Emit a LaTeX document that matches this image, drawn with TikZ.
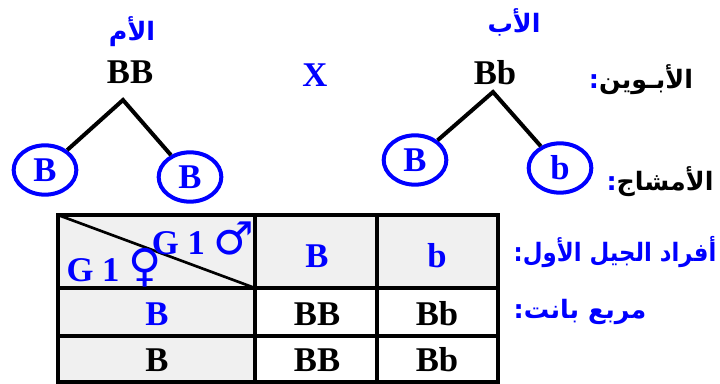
\documentclass[tikz,border=0pt]{standalone}
\usepackage{fontspec}
\setmainfont{Liberation Serif}
\newfontfamily\arabicfont[Script=Arabic]{DejaVu Sans}
\newfontfamily\gsymfont{DejaVu Sans}
\TeXXeTstate=1
\usetikzlibrary{shapes.geometric}
\definecolor{pblue}{RGB}{0,0,255}
\definecolor{cellgray}{RGB}{240,240,240}
\newcommand{\gsym}[1]{{\gsymfont\mdseries\fontsize{34}{34}\selectfont #1}}
\tikzset{
  lat/.style={inner sep=0pt, font=\fontsize{26}{26}\selectfont\bfseries},
  ar/.style={inner sep=0pt, font=\arabicfont\bfseries\fontsize{19}{19}\selectfont},
  gam/.style={ellipse, draw=pblue, line width=3pt, inner sep=0pt, minimum width=47pt, minimum height=37pt, text=pblue, font=\fontsize{26}{26}\selectfont\bfseries},
  branch/.style={line width=3pt, black},
  grid/.style={line width=2.4pt, black},
}
\begin{document}
\begin{tikzpicture}[x=0.75pt,y=-0.75pt]
\useasboundingbox (0,0) rectangle (720,383);
% parents
\node[ar, text=pblue] (momlab) at (132,32) {\beginR الأم\endR};
\node[lat] (mom) at (130,72) {BB};
\node[lat, text=pblue] (cross) at (315,75) {X};
\node[ar, text=pblue] (dadlab) at (514,22) {\beginR الأب\endR};
\node[lat] (dad) at (495,73) {Bb};
\node[ar] (parents) at (641,80) {\textcolor{pblue}{:}\beginR الأبـوين\endR};
\node[ar] (gametes) at (660,182) {\textcolor{pblue}{:}\beginR الأمشاج\endR};
% gametes
\coordinate (mapex) at (123,100);
\coordinate (dapex) at (493,92);
\node[gam] (m1) at (45,170) {B};
\node[gam] (m2) at (190,177) {B};
\node[gam] (d1) at (415,160) {B};
\node[gam] (d2) at (560,168) {b};
\draw[branch] (m1) -- (mapex) -- (m2);
\draw[branch] (d1) -- (dapex) -- (d2);
% table
\fill[cellgray] (58,215) rectangle (498,288);
\fill[cellgray] (58,288) rectangle (255,382);
\draw[grid] (58,215) rectangle (498,382);
\draw[grid] (255,215) -- (255,382);
\draw[grid] (377,215) -- (377,382);
\draw[grid] (58,288) -- (498,288);
\draw[grid] (58,336) -- (498,336);
\draw[line width=2pt] (58,215) -- (255,288);
\node[lat, text=pblue] (male) at (203,238) {G 1 \gsym{♂}};
\node[lat, text=pblue] (female) at (114,268) {G 1 \gsym{♀}};
\node[lat, text=pblue] (hB) at (317,256) {B};
\node[lat, text=pblue] (hb) at (437,256) {b};
\node[lat, text=pblue] (r1) at (157,314) {B};
\node[lat] (c11) at (317,314) {BB};
\node[lat] (c12) at (437,314) {Bb};
\node[lat] (r2) at (157,360) {B};
\node[lat] (c21) at (317,360) {BB};
\node[lat] (c22) at (437,360) {Bb};
% labels
\node[ar, text=pblue, xscale=0.9, transform shape] (f1) at (615,252) {:\beginR أفراد الجيل الأول\endR};
\node[ar, text=pblue] (pun) at (580,312) {:\beginR مربع بانت\endR};
\end{tikzpicture}
\end{document}
